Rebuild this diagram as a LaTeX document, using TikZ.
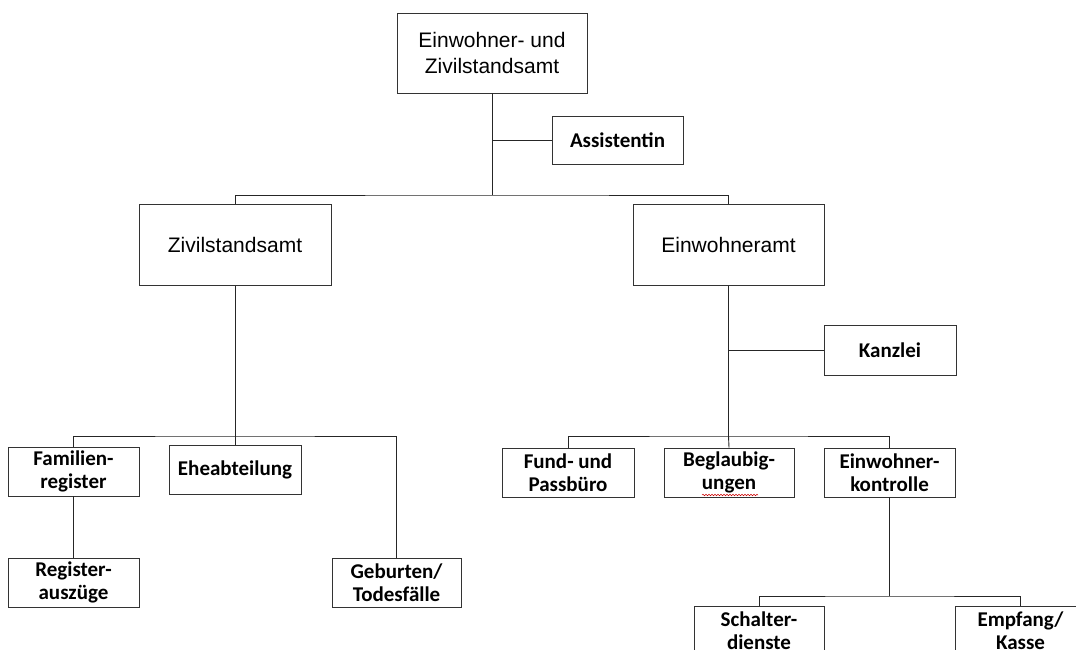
\documentclass[tikz,border=0pt]{standalone}
\usepackage{fontspec}
\newfontfamily\arialf{Liberation Sans}
\newfontfamily\calib{Carlito}
\usetikzlibrary{decorations.pathmorphing}
\begin{document}
\begin{tikzpicture}[x=1pt,y=-1pt,
  box/.style={draw=black!80,line width=0.9pt,inner sep=0pt,align=center,anchor=center},
  bigbox/.style={box,font=\arialf\fontsize{21}{25.5}\selectfont},
  smallbox/.style={box,font=\calib\bfseries\fontsize{21}{23.5}\selectfont},
  conn/.style={draw=black!85,line width=0.9pt}]
\useasboundingbox (0,0) rectangle (1076,650);
% nodes
\node[bigbox,minimum width=190,minimum height=80] (top) at (492,53) {Einwohner- und\\Zivilstandsamt};
\node[smallbox,minimum width=131,minimum height=48] (assist) at (617.5,140) {Assistentin};
\node[bigbox,minimum width=192,minimum height=81] (ziv) at (235,245) {Zivilstandsamt};
\node[bigbox,minimum width=191,minimum height=81] (einw) at (728.5,245) {Einwohneramt};
\node[smallbox,minimum width=132,minimum height=50] (kanzlei) at (890,350) {Kanzlei};
\node[smallbox,minimum width=131,minimum height=49] (famreg) at (73.5,471.5) {Familien-\\register};
\node[smallbox,minimum width=132,minimum height=49] (ehe) at (235,469.5) {Eheabteilung};
\node[smallbox,minimum width=131,minimum height=49] (regaus) at (73.5,582.5) {Register-\\auszüge};
\node[smallbox,minimum width=129,minimum height=49] (geburt) at (396.5,582.5) {Geburten/\\Todesfälle};
\node[smallbox,minimum width=132,minimum height=49] (fund) at (568,472.5) {Fund- und\\Passbüro};
\node[smallbox,minimum width=130,minimum height=49] (begl) at (729,472.5) {Beglaubig-\\ungen};
\node[smallbox,minimum width=131,minimum height=49] (einwk) at (889.5,472.5) {Einwohner-\\kontrolle};
\node[smallbox,minimum width=130,minimum height=49] (schalter) at (759,630.5) {Schalter-\\dienste};
\node[smallbox,minimum width=131,minimum height=49] (empfang) at (1020.5,630.5) {Empfang/\\Kasse};
% bus coordinates
\coordinate (busA) at (492,195);
\coordinate (busB) at (235,436);
\coordinate (busC) at (728.5,436);
\coordinate (busD) at (889.5,596);
% connectors
\draw[conn] (top.south) -- (busA);
\draw[conn] (ziv.north) |- (busA) -| (einw.north);
\draw[conn] (top.south |- assist.west) -- (assist.west);
\draw[conn] (ziv.south) -- (busB);
\draw[conn] (famreg.north) |- (busB) -| (geburt.north);
\draw[conn] (busB) -- (ehe.north);
\draw[conn] (famreg.south) -- (regaus.north);
\draw[conn] (einw.south) -- (busC);
\draw[conn] (einw.south |- kanzlei.west) -- (kanzlei.west);
\draw[conn] (fund.north) |- (busC) -| (einwk.north);
\draw[conn] (busC) -- (begl.north);
\draw[conn] (einwk.south) -- (busD);
\draw[conn] (schalter.north) |- (busD) -| (empfang.north);
% spell-check squiggle
\draw[red!80!black,line width=0.5pt,decorate,decoration={snake,amplitude=0.8,segment length=3}] (702,495) -- (758,495);
\end{tikzpicture}
\end{document}
